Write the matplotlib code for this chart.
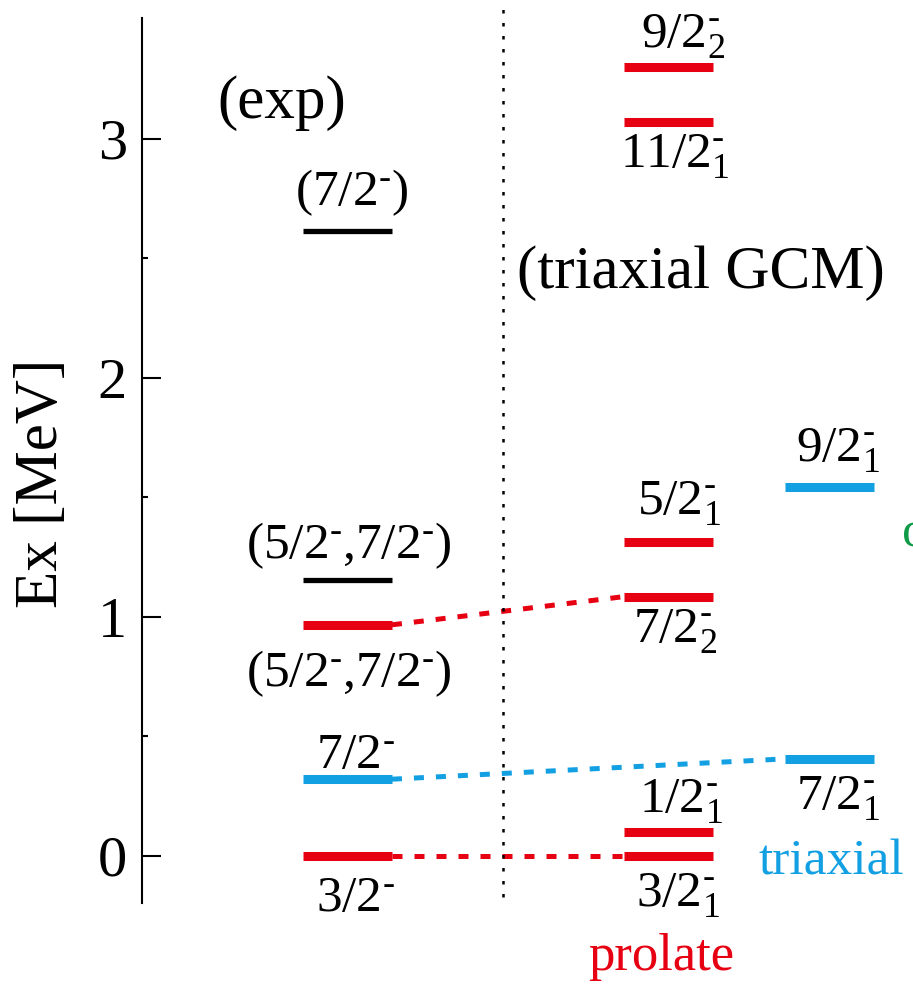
import matplotlib
matplotlib.use("Agg")
import matplotlib.pyplot as plt

plt.rcParams['font.family'] = ['Liberation Serif', 'DejaVu Serif']
plt.rcParams['mathtext.fontset'] = 'custom'
plt.rcParams['mathtext.rm'] = 'Liberation Serif'

RED = '#e60012'
BLUE = '#12a0e3'
GREEN = '#0f9a48'
BLACK = '#000000'

M = r'^{\text{-}}'  # short superscript dash for negative parity

# ---- level energies (MeV) and spin labels ----
exp_energies = [0.0, 0.321, 0.967, 1.155, 2.616]
exp_labels = ['3/2' + M, '7/2' + M, '(5/2' + M + '{,}7/2' + M + ')',
              '(5/2' + M + '{,}7/2' + M + ')', '(7/2' + M + ')']
exp_colors = [RED, BLUE, RED, BLACK, BLACK]

prolate_energies = [0.0, 0.098, 1.085, 1.315, 3.07, 3.30]
prolate_labels = ['3/2' + M + '_{1}', '1/2' + M + '_{1}', '7/2' + M + '_{2}',
                  '5/2' + M + '_{1}', '11/2' + M + '_{1}', '9/2' + M + '_{2}']

triaxial_energies = [0.406, 1.544]
triaxial_labels = ['7/2' + M + '_{1}', '9/2' + M + '_{1}']

# exp level index -> (column, level index, colour)
links = [(0, 'prolate', 0, RED), (2, 'prolate', 2, RED), (1, 'triaxial', 0, BLUE)]

# ---- layout: column centres, half width, label offsets (points) ----
x_exp, x_pro, x_tri = 2.665, 6.829, 8.911
half = 0.577
exp_off = [(5.4, -39.6), (5.4, 7.9), (1.1, -43.9), (1.1, 15.8), (3.2, 18.7)]
pro_off = [(6.5, -36.7), (9.0, 14.4), (4.7, -33.1), (7.6, 19.4), (4.7, -32.4), (10.1, 14.4)]
tri_off = [(6.1, -36.7), (6.1, 18.0)]

fig = plt.figure(figsize=(9.13, 9.85), dpi=100)
ax = fig.add_axes([142 / 913, 82 / 985, 771 / 913, 885 / 985])
ax.set_xlim(0, 10)
ax.set_ylim(-0.197, 3.506)


def draw_levels(xc, energies, labels, colors, offsets):
    for e, lab, c, off in zip(energies, labels, colors, offsets):
        lw = 3.8 if c == BLACK else 6.5
        ax.plot([xc - half, xc + half], [e, e], color=c, lw=lw,
                solid_capstyle='butt', zorder=3)
        ax.annotate(r'$\mathregular{' + lab + '}$', (xc, e), xytext=off,
                    textcoords='offset points', ha='center', va='baseline',
                    fontsize=37, annotation_clip=False)


draw_levels(x_exp, exp_energies, exp_labels, exp_colors, exp_off)
draw_levels(x_pro, prolate_energies, prolate_labels, [RED] * len(prolate_energies), pro_off)
draw_levels(x_tri, triaxial_energies, triaxial_labels, [BLUE] * len(triaxial_energies), tri_off)

# dashed lines linking experimental levels to calculated ones
cols = {'prolate': (x_pro, prolate_energies), 'triaxial': (x_tri, triaxial_energies)}
for i, name, j, c in links:
    xc, en = cols[name]
    ax.plot([x_exp + half, xc - half], [exp_energies[i], en[j]], color=c,
            lw=3.6, linestyle=(0, (2.0, 2.4)), zorder=2)

# separator between experiment and theory
ax.plot([4.682, 4.682], [-0.17, 3.58], color='black', lw=1.8,
        linestyle=(0, (1.4, 3.8)), clip_on=False)

# headings and band names
ax.text(0.973, 3.088, '(exp)', fontsize=44, ha='left', va='baseline')
ax.text(4.864, 2.377, '(triaxial GCM)', fontsize=44, ha='left', va='baseline')
ax.text(5.785, -0.477, 'prolate', fontsize=38, color=RED, ha='left', va='baseline')
ax.text(7.99, -0.0795, 'triaxial', fontsize=37, color=BLUE, ha='left', va='baseline')
ax.text(9.857, 1.293, 'oblate', fontsize=37, color=GREEN, ha='left', va='baseline')

# axis styling
for s in ['top', 'right', 'bottom']:
    ax.spines[s].set_visible(False)
ax.spines['left'].set_linewidth(1.5)
ax.set_xticks([])
ax.set_yticks([0, 1, 2, 3])
ax.set_yticks([0.5, 1.5, 2.5], minor=True)
ax.tick_params(axis='y', which='major', direction='in', length=13.7, width=1.5,
               labelsize=42, pad=10.8)
ax.tick_params(axis='y', which='minor', direction='in', length=4.3, width=1.5)
ax.text(-0.1297, 0.4746, 'Ex [MeV]', fontsize=44, rotation=90, ha='center',
        va='center', transform=ax.transAxes)

fig.savefig('out.png', dpi=100)
